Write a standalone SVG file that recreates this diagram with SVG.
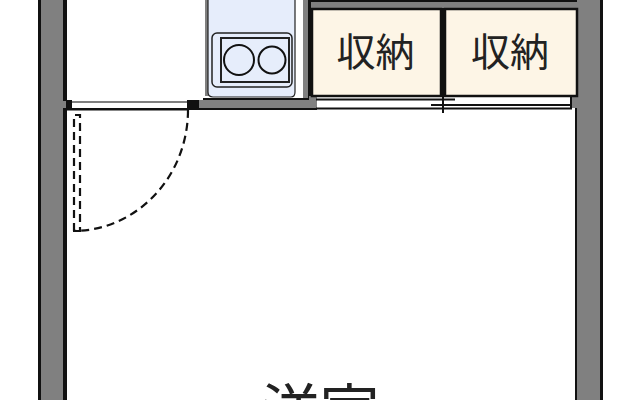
<svg xmlns="http://www.w3.org/2000/svg" width="640" height="400" viewBox="0 0 640 400">
<style>
.wall{fill:#808080}
.blk{fill:#111}
.ln{stroke:#111;fill:none;stroke-width:2}
.dash{stroke:#111;fill:none;stroke-width:2.200;stroke-dasharray:8 5}
.st{fill:#fdf5e6;stroke:#111;stroke-width:2.500}
.lb{font-family:"Noto Sans CJK JP","Noto Sans",sans-serif;fill:#222;text-anchor:middle}
</style>
<rect width="640" height="400" fill="#fff"/>
<g id="walls">
<rect class="blk" x="38" y="0" width="29" height="400"/>
<rect class="wall" x="41" y="0" width="22" height="400"/>
<rect class="blk" x="575" y="0" width="28" height="400"/>
<rect class="wall" x="577" y="0" width="23" height="400"/>
<rect x="63" y="0" width="4" height="100" fill="#111"/>
<rect class="blk" x="303" y="0" width="274" height="2"/>
<rect class="wall" x="303" y="2" width="274" height="7"/>
<rect class="wall" x="303" y="0" width="6" height="100"/>
<rect class="blk" x="308" y="0" width="3" height="98"/>
<rect class="wall" x="188" y="100" width="129" height="8"/>
<rect class="blk" x="188" y="108" width="129" height="2"/>
<rect class="blk" x="203" y="98" width="106" height="2"/>
<rect class="wall" x="309" y="96" width="8" height="12"/>
<rect class="wall" x="63" y="101" width="7" height="7"/>
<rect class="blk" x="66" y="100" width="6" height="8"/>
<rect class="blk" x="66" y="108" width="122" height="2.500"/>
<rect class="wall" x="72" y="101" width="116" height="2"/>
<rect class="blk" x="187" y="100" width="12" height="8"/>
<rect class="wall" x="570" y="97" width="7" height="11"/>
<rect class="blk" x="570" y="96" width="2" height="13"/>
</g>
<g id="kitchen">
<rect x="205" y="0" width="4" height="96" fill="#808080"/>
<path d="M208 0V92Q208 97 213 97H291Q295 97 295 92V0" fill="#e6edfb" stroke="#222" stroke-width="1.200"/>
<rect x="212" y="33" width="80" height="54" rx="5" fill="#e6edfb" stroke="#222" stroke-width="1.500"/>
<rect x="221" y="38" width="68" height="44" fill="#e6edfb" stroke="#222" stroke-width="2"/>
<circle cx="239" cy="60" r="15" fill="#e6edfb" stroke="#111" stroke-width="2"/>
<circle cx="272" cy="60" r="13.500" fill="#e6edfb" stroke="#111" stroke-width="2"/>
</g>
<g id="storage-1">
<rect class="st" x="312" y="9" width="129" height="87"/>
<text class="lb" x="375.500" y="66" font-size="39">収納</text>
</g>
<g id="storage-2">
<rect class="st" x="445" y="9" width="132" height="87"/>
<text class="lb" x="510" y="66" font-size="39">収納</text>
</g>
<g id="storage-doors">
<rect class="blk" x="441" y="8" width="4" height="89"/>
<path class="ln" d="M316 99.500H455M431 105H570M316 108.500H572M443 96V113"/>
</g>
<g id="door">
<path class="dash" d="M188 110A115 121 0 0 1 73 231"/>
<path class="dash" d="M74 231V115H80V231H74"/>
</g>
<g id="room">
<text class="lb" x="320" y="433" font-size="59">洋室</text>
</g>
</svg>
